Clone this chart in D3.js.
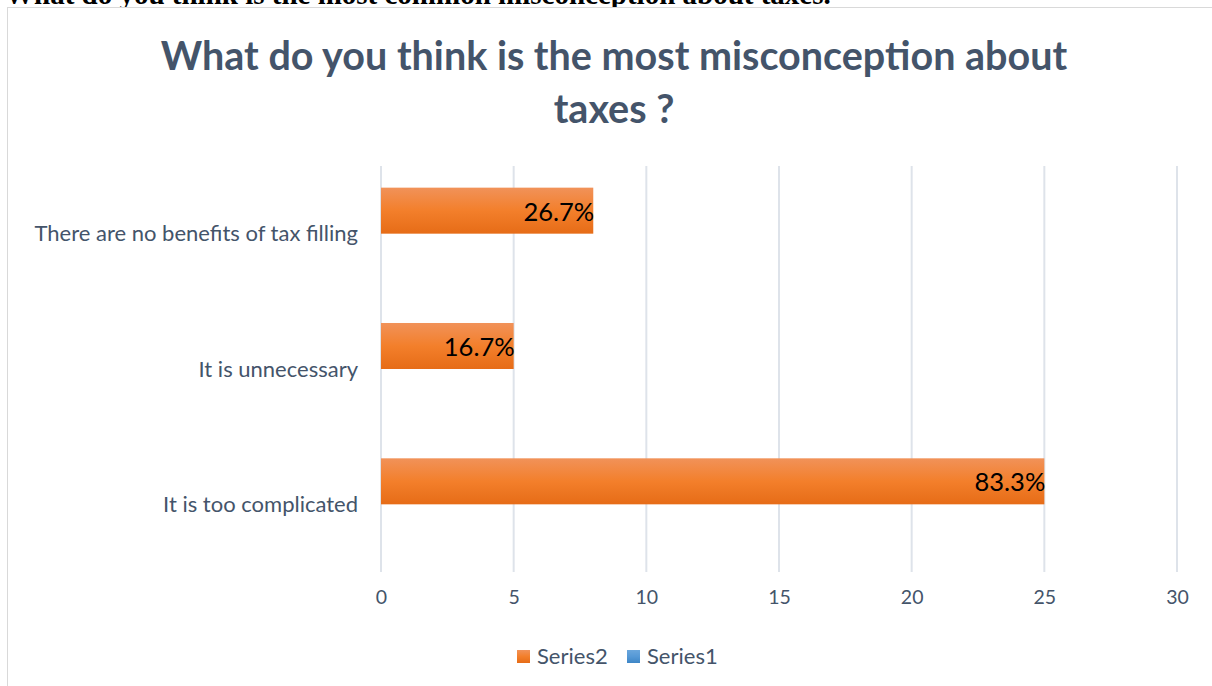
<!DOCTYPE html>
<html>
<head>
<meta charset="utf-8">
<script src="https://cdn.jsdelivr.net/npm/d3@7/dist/d3.min.js"></script>
<style>
  html, body { margin: 0; padding: 0; background: #fff; }
  svg { display: block; }
</style>
</head>
<body>
<svg id="chart" width="1212" height="686"></svg>
<script>
// Survey answers, listed top to bottom as they appear on the chart
const categories = [
  "There are no benefits of tax filling",
  "It is unnecessary",
  "It is too complicated"
];
const series2Values = [8, 5, 25];
const series2Labels = ["26.7%", "16.7%", "83.3%"];
const series1Values = [null, null, null];
const seriesNames = ["Series2", "Series1"];
const xTicks = [0, 5, 10, 15, 20, 25, 30];

const headingText = "What do you think is the most common misconception about taxes.";
const titleLines = ["What do you think is the most misconception about", "taxes ?"];

const svg = d3.select("#chart");
const textColor = "#44546A";
const uiFont = "Lato, 'Open Sans', sans-serif";

// Gradients for bar fills
const defs = svg.append("defs");
function grad(id, stops) {
  const g = defs.append("linearGradient").attr("id", id)
    .attr("x1", 0).attr("y1", 0).attr("x2", 0).attr("y2", 1);
  stops.forEach(([o, c]) => g.append("stop").attr("offset", o).attr("stop-color", c));
}
grad("gOrange", [[0, "#F19259"], [0.5, "#F37F2B"], [1, "#E66C17"]]);
grad("gBlue", [[0, "#6AA6DC"], [0.5, "#5699D6"], [1, "#3E86C6"]]);

// Document heading above the chart, partly clipped by the page edge
svg.append("text")
  .attr("x", 5).attr("y", 4)
  .attr("font-family", "'Liberation Serif', 'Times New Roman', serif")
  .attr("font-weight", "bold")
  .attr("font-size", 29)
  .attr("fill", "#000")
  .text(headingText);

// Chart frame
svg.append("rect")
  .attr("x", 7.5).attr("y", 7.5)
  .attr("width", 1400).attr("height", 900)
  .attr("fill", "#fff")
  .attr("stroke", "#D9D9D9").attr("stroke-width", 1);

// Title
const title = svg.append("text")
  .attr("text-anchor", "middle")
  .attr("font-family", uiFont)
  .attr("font-weight", "bold")
  .attr("font-size", 39.5)
  .attr("fill", textColor);
titleLines.forEach((t, i) => {
  title.append("tspan").attr("x", 614).attr("y", 70 + i * 53).text(t);
});

// Plot area
const plot = { left: 381, right: 1177, top: 166, bottom: 572 };

const x = d3.scaleLinear().domain([0, 30]).range([plot.left, plot.right]);
const y = d3.scaleBand().domain(categories)
  .range([plot.top, plot.bottom])
  .paddingInner(0.32).paddingOuter(0.16);
const ySub = d3.scaleBand().domain(seriesNames).range([0, y.bandwidth()]);

// Vertical gridlines
svg.append("g")
  .selectAll("line")
  .data(xTicks)
  .join("line")
  .attr("x1", d => x(d)).attr("x2", d => x(d))
  .attr("y1", plot.top).attr("y2", plot.bottom)
  .attr("stroke", "#DEE3EA").attr("stroke-width", 2);

// X axis tick labels
const xAxis = d3.axisBottom(x).tickValues(xTicks).tickSize(0).tickPadding(0);
const gx = svg.append("g")
  .attr("transform", `translate(0,${plot.bottom + 18})`)
  .call(xAxis);
gx.select(".domain").remove();
gx.selectAll("text")
  .attr("font-family", uiFont)
  .attr("font-size", 19.5)
  .attr("fill", textColor)
  .attr("dy", "0.71em");

// Category labels
const yAxis = d3.axisLeft(y).tickSize(0).tickPadding(0);
const gy = svg.append("g")
  .attr("transform", `translate(${plot.left - 23},0)`)
  .call(yAxis);
gy.select(".domain").remove();
gy.selectAll("text")
  .attr("font-family", uiFont)
  .attr("font-size", 22)
  .attr("fill", textColor)
  .attr("dy", "0.35em");

// Series2 bars
const bars = categories.map((c, i) => ({ c, v: series2Values[i], label: series2Labels[i] }));
svg.append("g")
  .selectAll("rect")
  .data(bars)
  .join("rect")
  .attr("x", x(0))
  .attr("y", d => y(d.c) + ySub("Series2"))
  .attr("width", d => x(d.v) - x(0))
  .attr("height", ySub.bandwidth())
  .attr("fill", "url(#gOrange)");

// Series1 bars (no values)
svg.append("g")
  .selectAll("rect")
  .data(categories.map((c, i) => ({ c, v: series1Values[i] })).filter(d => d.v != null))
  .join("rect")
  .attr("x", x(0))
  .attr("y", d => y(d.c) + ySub("Series1"))
  .attr("width", d => x(d.v) - x(0))
  .attr("height", ySub.bandwidth())
  .attr("fill", "url(#gBlue)");

// Data labels at the inside end of each bar
svg.append("g")
  .selectAll("text")
  .data(bars)
  .join("text")
  .attr("x", d => x(d.v) + 1)
  .attr("y", d => y(d.c) + ySub("Series2") + ySub.bandwidth() / 2 + 1)
  .attr("dy", "0.35em")
  .attr("text-anchor", "end")
  .attr("font-family", uiFont)
  .attr("font-size", 25.5)
  .attr("fill", "#000")
  .text(d => d.label);

// Legend
const legend = svg.append("g").attr("transform", "translate(517,650)");
const legendItems = [
  { name: "Series2", fill: "url(#gOrange)", x: 0 },
  { name: "Series1", fill: "url(#gBlue)", x: 110 }
];
const li = legend.selectAll("g").data(legendItems).join("g")
  .attr("transform", d => `translate(${d.x},0)`);
li.append("rect").attr("width", 13).attr("height", 13).attr("fill", d => d.fill);
li.append("text")
  .attr("x", 20).attr("y", 6.5).attr("dy", "0.35em")
  .attr("font-family", uiFont).attr("font-size", 22)
  .attr("fill", textColor)
  .text(d => d.name);
</script>
</body>
</html>
